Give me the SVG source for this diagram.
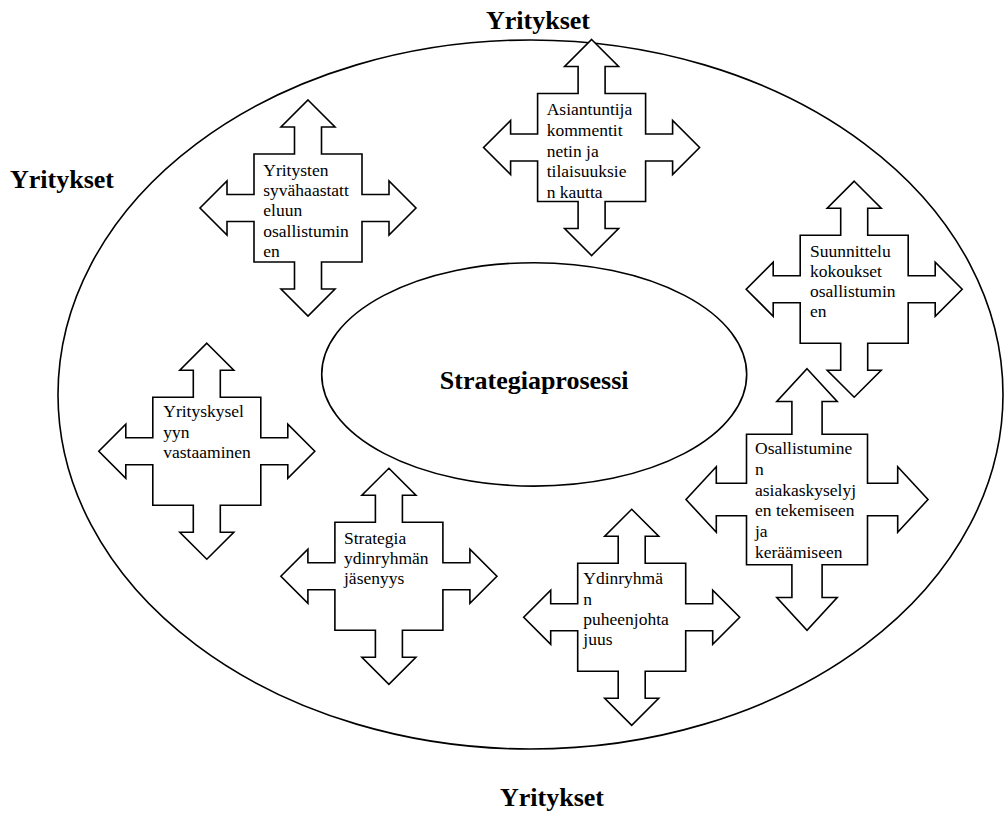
<svg xmlns="http://www.w3.org/2000/svg" xmlns:xlink="http://www.w3.org/1999/xlink" width="1004" height="813" viewBox="0 0 1004 813">
  <style>
    .bg { fill: #ffffff; }
    .ring { fill: none; stroke: #000; stroke-width: 1.6; }
    .core { fill: #ffffff; stroke: #000; stroke-width: 1.6; }
    .cross { fill: #ffffff; stroke: #000; stroke-width: 1.6; stroke-linejoin: miter; }
    .lbl { font-size: 17.5px; fill: #000; }
    .head { font-size: 26px; font-weight: bold; fill: #000; }
  </style>
  <defs>
    <!-- four-way arrow centred on 0,0 -->
    <path id="cross4" class="cross" d="M0,-108 L27,-81 L13.5,-81 L13.5,-54 L54,-54 L54,-13.5 L81,-13.5 L81,-27 L108,0 L81,27 L81,13.5 L54,13.5 L54,54 L13.5,54 L13.5,81 L27,81 L0,108 L-27,81 L-13.5,81 L-13.5,54 L-54,54 L-54,13.5 L-81,13.5 L-81,27 L-108,0 L-81,-27 L-81,-13.5 L-54,-13.5 L-54,-54 L-13.5,-54 L-13.5,-81 L-27,-81 Z"/>
  </defs>

  <rect class="bg" x="0" y="0" width="1004" height="813"/>

  <g font-family="Liberation Serif, DejaVu Serif, serif">
  <!-- outer ring and labels -->
  <g id="outer">
    <ellipse class="ring" cx="530.5" cy="394.5" rx="472.5" ry="354.5"/>
    <text class="head" x="538" y="29" text-anchor="middle">Yritykset</text>
    <text class="head" x="10" y="188">Yritykset</text>
    <text class="head" x="552" y="806" text-anchor="middle">Yritykset</text>
  </g>

  <!-- central process -->
  <g id="core">
    <ellipse class="core" cx="534.2" cy="374.4" rx="212.5" ry="111.7"/>
    <text class="head" x="534.2" y="389" text-anchor="middle" font-size="27">Strategiaprosessi</text>
  </g>

  <g id="n-syvahaastattelu">
    <use xlink:href="#cross4" transform="translate(308,208)"/>
    <text class="lbl" x="263.3" y="176">
      <tspan x="263.3">Yritysten</tspan>
      <tspan x="263.3" dy="20.2">syvähaastatt</tspan>
      <tspan x="263.3" dy="20.2">eluun</tspan>
      <tspan x="263.3" dy="20.2">osallistumin</tspan>
      <tspan x="263.3" dy="20.2">en</tspan>
    </text>
  </g>

  <g id="n-asiantuntija">
    <use xlink:href="#cross4" transform="translate(591.6,147.5)"/>
    <text class="lbl" x="546.7" y="115">
      <tspan x="546.7">Asiantuntija</tspan>
      <tspan x="546.7" dy="20.8">kommentit</tspan>
      <tspan x="546.7" dy="20.8">netin ja</tspan>
      <tspan x="546.7" dy="20.8">tilaisuuksie</tspan>
      <tspan x="546.7" dy="20.8">n kautta</tspan>
    </text>
  </g>

  <g id="n-suunnittelu">
    <use xlink:href="#cross4" transform="translate(854.2,289.2)"/>
    <text class="lbl" x="810" y="256.7">
      <tspan x="810">Suunnittelu</tspan>
      <tspan x="810" dy="20.2">kokoukset</tspan>
      <tspan x="810" dy="20.2">osallistumin</tspan>
      <tspan x="810" dy="20.2">en</tspan>
    </text>
  </g>

  <g id="n-yrityskysely">
    <use xlink:href="#cross4" transform="translate(206.8,451.2)"/>
    <text class="lbl" x="163.3" y="417.3">
      <tspan x="163.3">Yrityskysel</tspan>
      <tspan x="163.3" dy="20.5">yyn</tspan>
      <tspan x="163.3" dy="20.5">vastaaminen</tspan>
    </text>
  </g>

  <g id="n-ydinryhma-jasen">
    <use xlink:href="#cross4" transform="translate(388.9,576.3)"/>
    <text class="lbl" x="344" y="544.3">
      <tspan x="344">Strategia</tspan>
      <tspan x="344" dy="20">ydinryhmän</tspan>
      <tspan x="344" dy="20">jäsenyys</tspan>
    </text>
  </g>

  <g id="n-puheenjohtajuus">
    <use xlink:href="#cross4" transform="translate(631.7,617.3)"/>
    <text class="lbl" x="583.3" y="584.3">
      <tspan x="583.3">Ydinryhmä</tspan>
      <tspan x="583.3" dy="20.2">n</tspan>
      <tspan x="583.3" dy="20.2">puheenjohta</tspan>
      <tspan x="583.3" dy="20.2">juus</tspan>
    </text>
  </g>

  <g id="n-asiakaskysely">
    <path class="cross" d="M807,368.8 L837.2,401.5 L822.1,401.5 L822.1,434.2 L867.5,434.2 L867.5,483.2 L897.7,483.2 L897.7,466.8 L928,499.5 L897.7,532.2 L897.7,515.8 L867.5,515.8 L867.5,564.8 L822.1,564.8 L822.1,597.5 L837.2,597.5 L807,630.2 L776.8,597.5 L791.9,597.5 L791.9,564.8 L746.5,564.8 L746.5,515.8 L716.3,515.8 L716.3,532.2 L686,499.5 L716.3,466.8 L716.3,483.2 L746.5,483.2 L746.5,434.2 L791.9,434.2 L791.9,401.5 L776.8,401.5 Z"/>
    <text class="lbl" x="755" y="454.3">
      <tspan x="755">Osallistumine</tspan>
      <tspan x="755" dy="20.7">n</tspan>
      <tspan x="755" dy="20.7">asiakaskyselyj</tspan>
      <tspan x="755" dy="20.7">en tekemiseen</tspan>
      <tspan x="755" dy="20.7">ja</tspan>
      <tspan x="755" dy="20.7">keräämiseen</tspan>
    </text>
  </g>
  </g>
</svg>
